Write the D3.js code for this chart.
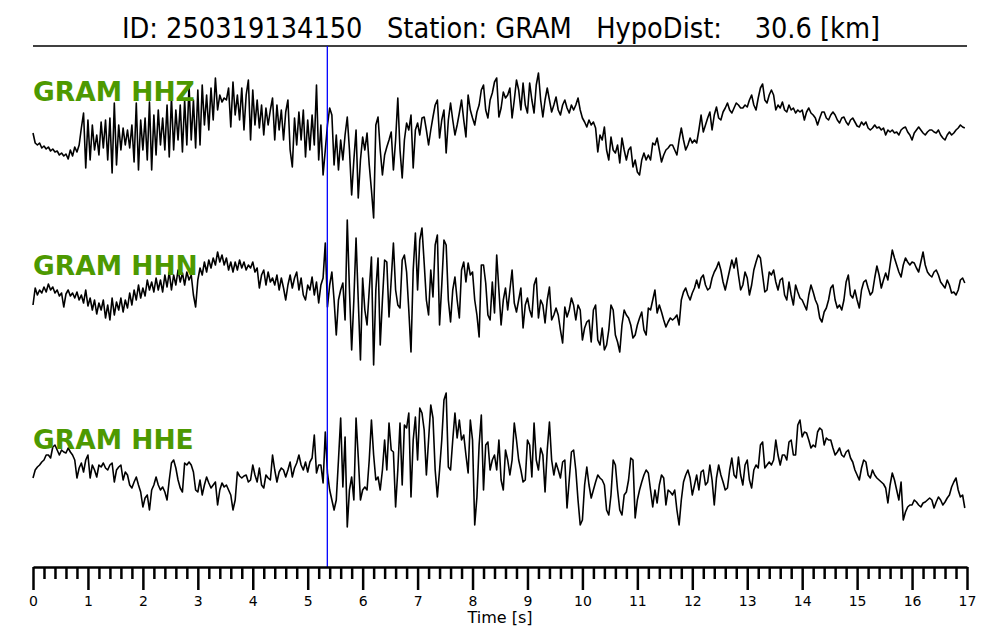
<!DOCTYPE html>
<html><head><meta charset="utf-8">
<script src="https://cdn.jsdelivr.net/npm/d3@7"></script>
<style>body{margin:0;background:#fff}</style>
</head><body><svg id="c" width="1000" height="640"></svg>
<script>
const titleText = "ID: 250319134150   Station: GRAM   HypoDist:    30.6 [km]";
const channels = ["GRAM HHZ", "GRAM HHN", "GRAM HHE"];
const sampleInterval = 0.04; // seconds between samples
const pickTime = 5.357;      // P pick [s]
const majorTicks = [0,1,2,3,4,5,6,7,8,9,10,11,12,13,14,15,16,17];
const xLabel = "Time [s]";

const hhz = [7,-3,-5,-3,-8,-6,-9,-7,-11,-9,
-12,-11,-15,-13,-16,-14,-19,-10,-16,-7,
-12,-5,12,27,-28,20,-20,15,-10,5,
-15,18,-8,20,-20,22,-33,37,-25,15,
-10,12,-5,10,-8,15,-22,37,-30,20,
-10,22,-20,38,-30,25,-15,30,-5,22,
-10,35,-17,43,-10,30,0,35,-12,40,
-5,55,0,40,-8,50,-5,55,15,45,
10,52,20,62,30,45,38,42,40,52,
13,58,25,45,20,52,10,45,60,0,
50,15,40,12,35,5,32,15,30,42,
0,35,10,30,0,28,40,-10,-27,22,
-5,28,0,30,-17,20,-10,25,-5,55,
-20,15,-35,-10,15,32,25,-25,5,-30,
0,-20,5,23,-10,-55,-20,10,-58,-20,
3,-10,7,-25,-50,-78,15,23,-10,-35,
-15,-7,0,8,-30,0,42,-10,-38,0,
17,10,25,-28,10,17,5,22,23,10,
-5,10,23,35,40,2,20,30,-13,20,
37,20,5,15,27,40,20,3,45,30,
22,15,28,35,50,55,30,22,40,47,
58,62,23,32,48,42,45,52,22,40,
60,50,30,57,35,27,57,40,27,55,
67,40,23,40,52,40,28,35,43,30,
25,35,40,32,27,35,30,35,42,30,
22,18,13,20,15,18,12,-12,5,0,
13,-10,-20,3,-10,-13,-5,-23,2,-10,
-20,-10,-7,-27,-20,-32,-35,-20,-13,-20,
-15,-20,-3,-5,2,-10,-22,-15,-10,-8,
-5,-5,-10,-15,0,12,0,-10,-5,2,
-3,0,-3,10,25,8,15,22,28,10,
25,33,22,20,28,32,37,30,27,32,
37,35,32,32,35,33,40,45,35,30,
42,52,56,40,37,45,50,45,30,35,
32,38,30,28,35,30,32,27,30,28,
30,20,28,32,27,25,22,15,22,28,
28,22,20,25,28,25,20,17,22,23,
18,15,20,22,18,14,13,18,15,18,
12,10,12,15,12,13,10,12,5,10,
8,10,7,8,5,10,12,13,8,5,
0,7,10,13,10,7,5,8,10,10,
8,7,10,5,2,0,5,8,5,7,
10,12,15,13,12];

const hhn = [-13,4,-3,2,-1,5,0,8,2,5,
-1,2,-4,-1,-15,-2,2,-4,-1,-6,
0,-8,-3,-11,2,-14,-6,-18,-8,-22,
-11,-18,-8,-26,-13,-28,-6,-23,-10,-18,
-6,-20,-8,-16,-1,-13,2,-8,7,-6,
4,-4,12,2,10,0,14,2,12,0,
17,5,20,2,17,7,22,10,19,7,
20,12,17,-3,-15,12,24,17,30,20,
32,24,34,27,40,30,37,27,34,22,
30,20,30,22,32,24,30,22,27,24,
30,20,24,4,17,22,7,20,10,14,
7,17,2,14,4,-8,7,17,4,14,
20,2,14,-3,-8,7,2,15,-3,10,
-11,7,14,49,-15,7,20,-8,-43,-8,
2,9,-28,72,2,-58,-8,54,-8,-68,
14,-18,-33,2,35,-73,2,34,-53,-8,
32,30,-25,12,49,2,-13,-16,32,37,
20,-18,-60,22,59,2,52,64,29,-8,
-23,22,-5,47,57,-33,7,52,47,-8,
-30,2,15,-8,-26,22,30,10,29,17,
20,-8,-23,-45,27,27,9,-23,-28,10,
-21,37,2,-33,-8,4,-18,2,22,-11,
-20,-8,4,-36,-13,-6,-18,-25,7,14,
-26,-8,-13,-31,-8,5,-28,-23,-16,-23,
-38,-51,-15,-25,-18,-6,-13,-28,-13,-18,
-48,-36,-30,-28,-50,-18,-13,-48,-53,-36,
-58,-53,-38,-13,-18,-43,-50,-60,-33,-18,
-23,-26,-33,-46,-43,-33,-26,-20,-38,-43,
-16,-18,-8,2,-21,-13,-20,-28,-35,-30,
-26,-28,-26,-23,-33,-8,0,4,-3,-8,
-1,4,12,4,14,17,7,2,4,14,
20,24,30,22,10,2,12,22,32,24,
34,17,2,7,20,14,-3,7,22,30,
37,34,17,0,2,20,17,22,10,2,
12,14,-3,-8,10,-3,-13,7,0,-6,
-8,-13,-18,-3,7,0,-8,-13,-26,-30,
-20,-16,-8,4,7,-8,-16,-13,-18,-8,
10,17,-3,-6,2,-8,-16,2,10,12,
4,-3,0,14,26,17,4,12,19,12,
27,42,34,27,20,15,27,34,30,27,
30,29,24,20,30,40,27,20,17,15,
20,22,17,10,7,4,12,7,-1,0,
-3,2,12,14,9];

const hhe = [-16,-8,-5,-3,0,2,7,7,4,15,
17,12,7,12,10,9,14,10,7,2,
-16,-6,-1,-10,2,7,-16,-3,-8,-15,
-3,-5,-1,-6,-8,-3,-1,-20,-8,-5,
-3,-18,-10,-13,-23,-26,-20,-15,-23,-30,
-45,-36,-33,-48,-28,-23,-15,-23,-28,-25,
-30,-38,-18,-1,2,-6,-18,-26,-30,-1,
-3,0,-3,-10,-28,-30,-18,-33,-23,-15,
-21,-26,-23,-20,-43,-28,-21,-25,-23,-28,
-33,-48,-38,-10,-14,-16,-14,-13,-20,-18,
-3,-13,-20,-6,-23,-26,-13,-16,-18,7,
-8,-20,-10,-6,-8,-15,-8,0,-15,-6,
-1,7,-3,-8,0,-10,0,4,27,-11,
-3,-3,-21,30,-11,-28,-38,-48,-38,2,
44,-25,25,-65,-28,-15,-38,44,5,-38,
-28,-25,-28,2,42,7,-18,-15,-28,-8,
22,-8,39,12,10,-45,-8,39,-23,37,
34,49,-35,22,45,2,54,49,32,-13,
22,57,44,-8,-35,-8,22,62,69,-5,
-8,22,49,24,42,22,27,7,-11,42,
22,-63,-35,17,47,-28,17,20,-8,2,
7,-8,22,-18,-28,12,2,-13,2,39,
22,2,-8,-20,-18,22,17,-15,39,2,
-8,14,7,-30,12,40,2,-13,-1,-8,
-16,0,2,-46,-18,10,12,-8,-38,-63,
-58,-23,-5,-23,-36,-28,-20,-13,-16,-18,
-23,-48,-53,-33,2,-3,-28,-48,-53,-33,
-30,-18,4,2,-56,-38,-28,-20,-13,-8,
-11,-28,-45,-28,-41,-23,-13,-16,-43,-28,
-30,-33,-28,-48,-63,-38,-20,-13,-8,-16,
-33,-23,-13,-28,-10,-8,-23,-20,-3,-18,
-43,-16,-3,-13,-20,-28,-26,-8,4,-13,
-16,5,-13,-23,-3,2,-18,-26,-8,-3,
-6,17,20,-6,-3,0,-3,2,22,7,
-3,7,7,2,20,22,7,7,37,42,
25,30,29,22,14,17,15,30,34,32,
17,24,22,22,14,7,10,14,7,5,
10,12,4,0,-8,-13,-18,-6,2,0,
-13,-16,-8,-13,-16,-18,-20,-22,-26,-41,
-23,-11,-18,-28,-38,-20,-58,-50,-45,-43,
-43,-38,-40,-43,-45,-41,-40,-38,-36,-38,
-46,-40,-35,-38,-43,-40,-36,-33,-25,-20,
-16,-28,-35,-33,-46];

const traces = [hhz, hhn, hhe];

const svg = d3.select("#c");
svg.append("rect").attr("width", 1000).attr("height", 640).attr("fill", "#fff");

const x = d3.scaleLinear().domain([0, 17]).range([33, 967]);
const centers = [140, 292, 462];
const labelY = [101, 275, 449];

// title
svg.append("text")
  .attr("x", 501).attr("y", 38)
  .attr("text-anchor", "middle")
  .style("white-space", "pre")
  .attr("font-family", "'DejaVu Sans Condensed', 'DejaVu Sans', sans-serif")
  .attr("font-size", 28.6)
  .attr("fill", "#000")
  .text(titleText);
svg.append("line").attr("x1", 33).attr("x2", 967).attr("y1", 46).attr("y2", 46)
  .attr("stroke", "#000").attr("stroke-width", 1.5);

// traces
traces.forEach((vals, k) => {
  const c = centers[k];
  const y = d3.scaleLinear().domain([-100, 100]).range([c + 100, c - 100]);
  const line = d3.line().x((d, i) => x(i * sampleInterval)).y(d => y(d));
  svg.append("path").datum(vals).attr("d", line)
    .attr("fill", "none").attr("stroke", "#000").attr("stroke-width", 1.6)
    .attr("stroke-linejoin", "round");
});

// labels
channels.forEach((name, k) => {
  svg.append("text").attr("x", 33).attr("y", labelY[k])
    .attr("font-family", "'DejaVu Sans', sans-serif").attr("font-weight", "bold")
    .attr("font-size", 26.5).attr("fill", "#4d9900").text(name);
});

// pick line
svg.append("line").attr("x1", x(pickTime)).attr("x2", x(pickTime))
  .attr("y1", 46).attr("y2", 567).attr("stroke", "#0000ff").attr("stroke-width", 1.3);

// axis
const minorTicks = d3.range(0, 17.001, 0.2).filter(v => Math.abs(v - Math.round(v)) > 1e-6);
const gMinor = svg.append("g").attr("transform", "translate(0,567)")
  .call(d3.axisBottom(x).tickValues(minorTicks).tickSize(12).tickSizeOuter(0).tickFormat(""));
gMinor.select(".domain").remove();
const gMajor = svg.append("g").attr("transform", "translate(0,567)")
  .call(d3.axisBottom(x).tickValues(majorTicks).tickSize(23).tickSizeOuter(0).tickPadding(6).tickFormat(d3.format("d")));
svg.selectAll(".tick line").attr("stroke", "#000").attr("stroke-width", 2.5);
gMajor.select(".domain").attr("stroke", "#000").attr("stroke-width", 2.5);
gMajor.selectAll("text").attr("font-family", "'DejaVu Sans', sans-serif").attr("font-size", 14).attr("fill", "#000");

svg.append("text").attr("x", 500).attr("y", 623).attr("text-anchor", "middle")
  .attr("font-family", "'DejaVu Sans', sans-serif").attr("font-size", 16).attr("fill", "#000")
  .text(xLabel);
</script></body></html>
